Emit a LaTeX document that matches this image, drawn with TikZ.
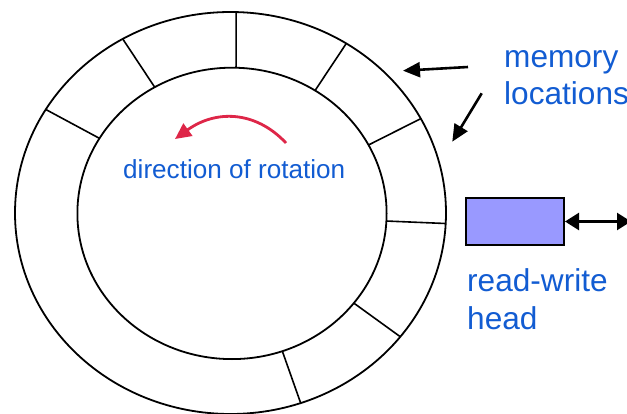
\documentclass[tikz,border=0pt]{standalone}
\usepackage{fontspec}
\setmainfont{Liberation Sans}
\usetikzlibrary{arrows.meta}
\definecolor{labelblue}{RGB}{18,92,210}
\definecolor{rotred}{RGB}{222,38,72}
\definecolor{headfill}{RGB}{153,153,255}
\tikzset{
  ring/.style={line width=1.8pt},
  spoke/.style={line width=1.6pt},
  biglabel/.style={text=labelblue, inner sep=0pt, anchor=base west,
    font=\fontsize{31.6}{37}\selectfont},
  smalllabel/.style={text=labelblue, inner sep=0pt, anchor=base west,
    font=\fontsize{26.1}{31}\selectfont},
  pointer/.style={line width=2.6pt, -{Triangle[length=17pt,width=15pt]}},
  headbox/.style={draw, line width=2pt, fill=headfill, minimum width=98pt,
    minimum height=47pt, inner sep=0pt},
  headtip/.tip={Triangle[length=14pt,width=17pt]},
}
\begin{document}
\begin{tikzpicture}[x=1pt,y=-1pt]
\useasboundingbox (0,0) rectangle (627,414);

% the drum: outer and inner rims
\coordinate (oc) at (230.5,213);
\coordinate (ic) at (232,213.4);
\draw[ring] (oc) ellipse [x radius=215.5pt, y radius=201pt];
\draw[ring] (ic) ellipse [x radius=154.6pt, y radius=145.7pt];

% walls between memory cells
\foreach \t in {149,120,88.5,57.5,28,-3,-38,-71}
  \draw[spoke] ({232+154.6*cos(\t)},{213.4-145.7*sin(\t)})
            -- ({230.5+215.5*cos(\t)},{213-201*sin(\t)});

% rotation arrow and its label
\coordinate (rotstart) at (286,143);
\coordinate (rotend) at (175,139);
\draw[rotred, line width=2.8pt, -{Triangle[length=16pt,width=15pt]}]
  (rotstart) .. controls (255,110) and (215,110) .. (rotend);
\node[smalllabel] (rotlabel) at (123,179) {direction of rotation};

% memory locations label with pointers
\node[biglabel] (mem1) at (504,68) {memory};
\node[biglabel] (mem2) at (504,105) {locations};
\coordinate (p1a) at (468,67);
\coordinate (p1b) at (403,70.7);
\coordinate (p2a) at (481.7,93.3);
\coordinate (p2b) at (452.3,141.7);
\draw[pointer] (p1a) -- (p1b);
\draw[pointer] (p2a) -- (p2b);

% read-write head and its travel arrow
\node[headbox] (head) at (515,221.5) {};
\coordinate (headend) at (631,221.5);
\draw[line width=2.4pt, headtip-headtip] (head.east) -- (headend);
\node[biglabel] (rw1) at (467,292) {read-write};
\node[biglabel] (rw2) at (467,330) {head};
\end{tikzpicture}
\end{document}
